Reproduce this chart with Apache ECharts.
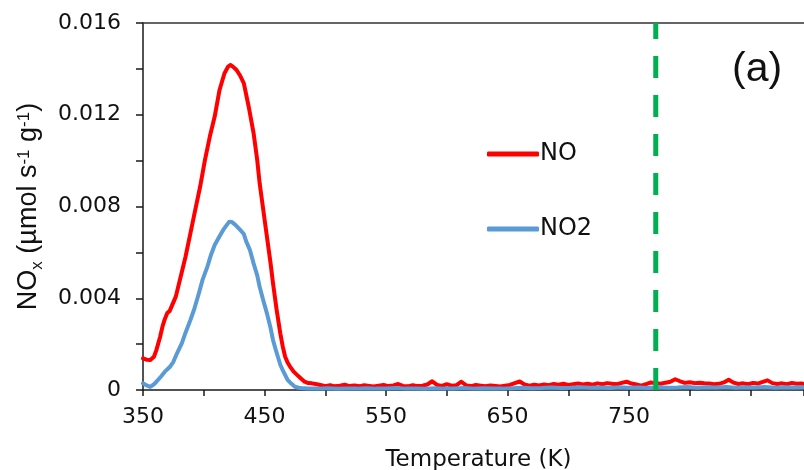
<!DOCTYPE html>
<html>
<head>
<meta charset="utf-8">
<script src="https://cdn.jsdelivr.net/npm/echarts@6/dist/echarts.min.js"></script>
<style>html,body{margin:0;padding:0;background:#fff}#c{width:804px;height:470px}</style>
</head>
<body>
<div id="c"></div>
<script>
const noTemp = [350,353,356,359,361,364,366,368,370,372,374,377,381,385,389,393,397,401,405,409,413,417,420,422,424,427,430,433,437,441,444,446,449,452,455,457,460,463,465,467,469,471,474,477,480,483,486,489,
492,496,500,504,508,512,516,520,524,528,532,536,540,544,548,552,556,560,564,568,572,576,580,584,588,592,596,600,604,608,612,616,620,624,628,632,636,640,644,648,652,656,660,664,668,672,676,680,684,688,692,696,700,704,708,712,716,720,724,728,732,736,740,744,748,752,756,760,764,768,772,776,780,784,788,792,796,800,804,808,812,816,820,824,828,832,836,840,844,848,852,856,860,864,868,872,876,880,884,888,892,894];
const noVal = [0.00138,0.00132,0.00131,0.00145,0.00174,0.00230,0.00276,0.00310,0.00336,0.00345,0.00370,0.00407,0.00494,0.00581,0.00683,0.00785,0.00886,0.01003,0.01105,0.01192,0.01308,0.01380,0.01410,0.01417,0.01410,0.01395,0.01370,0.01337,0.01235,0.01120,0.01003,0.00901,0.00785,0.00668,0.00552,0.00465,0.00349,0.00247,0.00190,0.00145,0.00120,0.00102,0.00080,0.00065,0.00050,0.00036,0.00030,0.00029,
0.00026,0.00022,0.00017,0.00021,0.00016,0.00019,0.00023,0.00017,0.00020,0.00016,0.00021,0.00018,0.00015,0.00019,0.00022,0.00017,0.00020,0.00026,0.00018,0.00016,0.00021,0.00017,0.00019,0.00024,0.00038,0.00022,0.00018,0.00025,0.00019,0.00021,0.00036,0.00020,0.00017,0.00022,0.00019,0.00016,0.00020,0.00018,0.00015,0.00019,0.00022,0.00030,0.00037,0.00024,0.00019,0.00023,0.00020,0.00024,0.00021,0.00026,0.00023,0.00027,0.00022,0.00025,0.00028,0.00024,0.00027,0.00023,0.00029,0.00025,0.00030,0.00027,0.00025,0.00031,0.00036,0.00028,0.00024,0.00019,0.00026,0.00033,0.00030,0.00027,0.00032,0.00036,0.00047,0.00038,0.00031,0.00034,0.00030,0.00032,0.00029,0.00028,0.00025,0.00027,0.00033,0.00045,0.00032,0.00026,0.00029,0.00025,0.00031,0.00028,0.00035,0.00042,0.00030,0.00026,0.00029,0.00025,0.00031,0.00027,0.00028,0.00026];

const no2Temp = [350,353,356,359,361,365,368,372,375,378,382,385,389,392,396,399,403,406,409,413,416,419,421,423,426,430,433,435,438,441,444,446,449,452,455,457,459,461,463,465,469,472,475,478,
480,486,494,502,510,518,526,534,542,550,558,566,574,582,590,598,606,614,622,630,638,646,654,662,670,678,686,694,702,710,718,726,734,742,750,758,766,774,782,790,798,806,814,822,830,838,846,854,862,870,878,886,894];
const no2Val = [0.00029,0.00020,0.00014,0.00025,0.00036,0.00060,0.00080,0.00100,0.00123,0.00160,0.00204,0.00250,0.00305,0.00350,0.00422,0.00480,0.00538,0.00590,0.00632,0.00670,0.00698,0.00720,0.00734,0.00733,0.00720,0.00698,0.00680,0.00647,0.00610,0.00552,0.00500,0.00450,0.00390,0.00334,0.00270,0.00218,0.00180,0.00145,0.00110,0.00087,0.00044,0.00028,0.00014,0.00010,
0.00009,0.00007,0.00006,0.00008,0.00005,0.00007,0.00006,0.00008,0.00006,0.00007,0.00009,0.00006,0.00007,0.00005,0.00008,0.00006,0.00007,0.00009,0.00006,0.00008,0.00007,0.00006,0.00008,0.00010,0.00008,0.00009,0.00011,0.00009,0.00010,0.00012,0.00010,0.00011,0.00009,0.00012,0.00010,0.00011,0.00009,0.00012,0.00010,0.00011,0.00013,0.00010,0.00012,0.00011,0.00013,0.00010,0.00012,0.00011,0.00013,0.00010,0.00012,0.00011,0.00012];

const markerTemp = [772, 772];
const markerVal = [0, 0.016];
const xLabels = [350, 450, 550, 650, 750];
const yLabels = [0, 0.004, 0.008, 0.012, 0.016];

function pairs(xs, ys) { return xs.map((x, i) => [x, ys[i]]); }

const chart = echarts.init(document.getElementById('c'), null, {renderer: 'canvas'});
const axisCol = '#1a1a1a';
const wide = 'DejaVu Sans';
chart.setOption({
  animation: false,
  backgroundColor: '#fff',
  grid: {left: 143, right: 0, top: 23, bottom: 80, containLabel: false, outerBoundsMode: 'none'},
  title: {text: '(a)', left: 727, top: 44, textStyle: {fontFamily: 'Liberation Sans', fontSize: 41, fontWeight: 'normal', color: '#111'}},
  legend: {
    data: ['NO', 'NO2'], orient: 'vertical', left: 482, top: 137,
    icon: 'roundRect', itemWidth: 52, itemHeight: 5, itemGap: 51,
    textStyle: {fontFamily: wide, fontSize: 24, color: '#111', padding: [0,0,0,-4]}
  },
  xAxis: [{
    type: 'value', min: 350, max: 894, interval: 50, position: 'bottom',
    name: 'Temperature (K)', nameLocation: 'middle', nameGap: 59,
    nameTextStyle: {fontFamily: wide, fontSize: 23, color: '#111', padding: [0,0,0,10]},
    axisLine: {show: true, onZero: false, lineStyle: {color: axisCol, width: 1.5}},
    axisTick: {show: true, inside: false, length: 6, lineStyle: {color: axisCol, width: 1.5}},
    axisLabel: {margin: 16, fontFamily: wide, fontSize: 22, color: '#111',
      formatter: v => xLabels.indexOf(v) >= 0 ? String(v) : ''},
    splitLine: {show: false}
  }, {
    type: 'value', min: 350, max: 894, position: 'top',
    axisLine: {show: true, onZero: false, lineStyle: {color: '#333', width: 1.5}},
    axisTick: {show: false}, axisLabel: {show: false}, splitLine: {show: false}
  }],
  yAxis: {
    type: 'value', min: 0, max: 0.016, interval: 0.002,
    name: '{a|NO}{sub|x}{a| (µmol s}{sup|-1}{a| g}{sup|-1}{a|)}',
    nameLocation: 'middle', nameGap: 101, nameRotate: 90,
    nameTextStyle: {
      rich: {
        a: {fontFamily: 'Liberation Sans', fontSize: 27, color: '#111', lineHeight: 30, verticalAlign: 'bottom'},
        sub: {fontFamily: 'Liberation Sans', fontSize: 17, color: '#111', lineHeight: 30, verticalAlign: 'bottom', padding: [0,0,-4,0]},
        sup: {fontFamily: 'Liberation Sans', fontSize: 17, color: '#111', lineHeight: 30, verticalAlign: 'top', padding: [4,0,0,0]}
      }
    },
    axisLine: {show: true, onZero: false, lineStyle: {color: axisCol, width: 1.5}},
    axisTick: {show: true, inside: false, length: 7, lineStyle: {color: axisCol, width: 1.5}},
    axisLabel: {margin: 22, fontFamily: wide, fontSize: 22, color: '#111',
      formatter: v => {
        const k = yLabels.findIndex(t => Math.abs(t - v) < 1e-9);
        return k < 0 ? '' : (v === 0 ? '0' : yLabels[k].toFixed(3));
      }},
    splitLine: {show: false}
  },
  series: [
    {name: 'NO', type: 'line', data: pairs(noTemp, noVal), showSymbol: false, symbol: 'none', clip: false,
      lineStyle: {color: '#FF0000', width: 4, join: 'round', cap: 'round'}, itemStyle: {color: '#FF0000'}},
    {name: 'NO2', type: 'line', data: pairs(no2Temp, no2Val), showSymbol: false, symbol: 'none', clip: false,
      lineStyle: {color: '#5B9BD5', width: 4, join: 'round', cap: 'round'}, itemStyle: {color: '#5B9BD5'}},
    {name: 'marker', type: 'line', data: pairs(markerTemp, markerVal), showSymbol: false, symbol: 'none', silent: true,
      lineStyle: {color: '#00B050', width: 5, type: [22, 17]}}
  ]
});
</script>
</body>
</html>
